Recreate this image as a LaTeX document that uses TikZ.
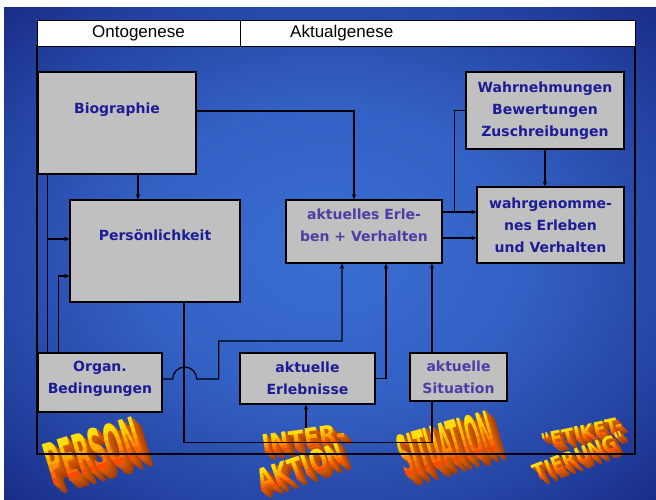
\documentclass[tikz,border=0pt]{standalone}
\usepackage{fontspec}
\setmainfont{Liberation Sans}
\newfontfamily\boxfont{DejaVu Sans}
\newfontfamily\artfont{DejaVu Sans}
\usetikzlibrary{arrows.meta}

\definecolor{boxfill}{RGB}{192,192,192}
\definecolor{boxink}{RGB}{28,28,150}
\definecolor{boxinksoft}{RGB}{75,62,165}
% front face of the 3D lettering, bottom band to top band
\definecolor{waA}{RGB}{255,72,0}
\definecolor{waB}{RGB}{255,105,0}
\definecolor{waC}{RGB}{255,140,0}
\definecolor{waD}{RGB}{255,172,0}
\definecolor{waE}{RGB}{255,200,0}
\definecolor{waF}{RGB}{255,222,10}
% extruded sides of the lettering
\definecolor{wadark}{RGB}{215,95,8}
\definecolor{wadeep}{RGB}{135,42,0}

\pgfdeclareradialshading{slidebg}{\pgfpoint{0bp}{0bp}}{%
  rgb(0bp)=(0.23,0.43,0.82);
  rgb(15bp)=(0.20,0.38,0.77);
  rgb(28bp)=(0.14,0.26,0.63);
  rgb(40bp)=(0.07,0.12,0.47);
  rgb(50bp)=(0.04,0.06,0.38);
  rgb(72bp)=(0.02,0.04,0.33)}

% 3D word: #1 baseline centre, #2 angle, #3 xscale, #4 yscale,
% #5 font size, #6 extrusion steps, #7 text
\newcommand\wordart[7]{%
  \foreach \i in {#6,...,1}{%
    \pgfmathsetmacro\mix{100-(\i-1)*70/#6}%
    \begin{scope}[shift={#1}, xshift=\i*0.85pt, yshift=-\i*0.75pt,
                  rotate=#2, xscale=#3, yscale=#4]
      \node[waglyph, font=\artfont\bfseries\fontsize{#5}{#5}\selectfont,
            text=wadark!\mix!wadeep] at (0pt,0pt) {#7};
    \end{scope}}%
  \begin{scope}[shift={#1}, rotate=#2, xscale=#3, yscale=#4]
    \foreach \k/\c in {0/waA,1/waB,2/waC,3/waD,4/waE,5/waF}{%
      \pgfmathsetmacro\ylo{\k==0 ? -10 : \k*#5*0.1215}%
      \pgfmathsetmacro\yhi{\k==5 ? #5 : (\k+1)*#5*0.1215}%
      \begin{scope}
        \clip (-300pt,\ylo pt) rectangle (300pt,\yhi pt);
        \node[waglyph, font=\artfont\bfseries\fontsize{#5}{#5}\selectfont,
              text=\c] at (0pt,0pt) {#7};
      \end{scope}}
  \end{scope}}

\begin{document}
\begin{tikzpicture}[x=1pt,y=-1pt,
  box/.style={draw=black, line width=1.4pt, fill=boxfill, inner sep=0pt,
    font=\boxfont\bfseries\fontsize{14}{22}\selectfont, text=boxink, align=center},
  hdrcell/.style={draw=black, line width=1pt, fill=white, inner sep=0pt,
    minimum height=26pt, font=\fontsize{17}{17}\selectfont},
  hdrtext/.style={inner sep=0pt, font=\fontsize{17}{17}\selectfont},
  conn/.style={draw=black, line width=1.2pt},
  arr/.style={conn, -{Stealth[length=5pt,width=4.5pt]}},
  waglyph/.style={anchor=base, inner sep=0pt, transform shape},
]
\useasboundingbox (0,0) rectangle (656,499);

% slide background
\fill[white] (0,0) rectangle (656,499);
\shade[shading=slidebg] (4,7) rectangle (656,499);

% 3D lettering
\wordart{(99,471)}{17}{0.71}{1.92}{30}{12}{PERSON}
\wordart{(305,448)}{8}{1.12}{1.28}{20}{9}{INTER-}
\wordart{(304,477)}{19}{1.05}{1.5}{20}{9}{AKTION}
\wordart{(452,464)}{16}{0.54}{1.92}{30}{12}{SITUATION}
\wordart{(583,440)}{12}{1.1}{1.25}{16}{8}{"ETIKET-}
\wordart{(582,463)}{21}{1.1}{1.35}{16}{8}{TIERUNG"}

% outer frame
\draw[conn] (37,46) rectangle (635,454);

% boxes
\node[box, minimum width=158pt, minimum height=102pt, text depth=30pt] (bio) at (117,123) {Biographie};
\node[box, minimum width=170pt, minimum height=102pt, text depth=32pt] (pers) at (155,251) {Persönlichkeit};
\node[box, minimum width=156pt, minimum height=63pt, text=boxinksoft, text depth=12pt] (akt) at (364,231.5) {aktuelles Erle-\\ben + Verhalten};
\node[box, minimum width=158pt, minimum height=77pt] (wahrn) at (545,110.5) {Wahrnehmungen\\Bewertungen\\Zuschreibungen};
\node[box, minimum width=147pt, minimum height=76pt] (wahrg) at (550.5,225) {wahrgenomme-\\nes Erleben\\und Verhalten};
\node[box, minimum width=124pt, minimum height=59pt, text depth=10pt] (organ) at (100,382.5) {Organ.\\Bedingungen};
\node[box, minimum width=135pt, minimum height=51pt] (erlebn) at (307.5,378.5) {aktuelle\\Erlebnisse};
\node[box, minimum width=97pt, minimum height=48pt, text=boxinksoft] (situ) at (458.5,377) {aktuelle\\Situation};

% connectors
\coordinate (b1) at ([xshift=21pt]bio.south);
\draw[arr] (b1) -- (b1 |- pers.north);
\coordinate (b2) at ([yshift=12pt]bio.east);
\coordinate (a1) at ([xshift=-10pt]akt.north);
\draw[arr] (b2) -| (a1);

\coordinate (l1) at ([xshift=10pt]bio.south west);
\coordinate (l2) at ([xshift=10pt]organ.north west);
\draw[conn] (l1) -- (l2);
\coordinate (p1) at ([yshift=12pt]pers.west);
\draw[arr] (l1 |- p1) -- (p1);
\coordinate (l3) at ([xshift=21pt]organ.north west);
\coordinate (p2) at ([yshift=-25pt]pers.west);
\draw[arr] (l3) |- (p2);

\coordinate (p3) at ([xshift=29pt]pers.south);
\coordinate (s1) at ([xshift=-26.5pt]situ.south);
\draw[conn] (p3) -- ++(0,140) -| (s1);
\coordinate (s2) at ([xshift=-26.5pt]situ.north);
\draw[arr] (s2) -- (s2 |- akt.south);

\coordinate (o1) at ([yshift=3.5pt]organ.east);
\coordinate (a2) at ([xshift=-22pt]akt.south);
\draw[arr] (o1) -- ++(10,0) arc[start angle=180, end angle=0, radius=12pt]
  -- ++(22,0) -- ++(0,-38) -| (a2);

\coordinate (a3) at ([xshift=22pt]akt.south);
\draw[arr] (erlebn.east) -| (a3);
\coordinate (ia) at (306,428);
\draw[arr] (ia) -- (ia |- erlebn.south);

\coordinate (a4) at ([yshift=19.5pt]akt.east);
\coordinate (a5) at ([yshift=-6.5pt]akt.east);
\draw[arr] (a4) -- (a4 -| wahrg.west);
\draw[arr] (a5) -- (a5 -| wahrg.west);
\coordinate (j1) at ([xshift=12pt]a4);
\draw[conn] (wahrn.west) -| (j1);
\draw[arr] (wahrn.south) -- (wahrn.south |- wahrg.north);

% header strip
\node[hdrcell, minimum width=203pt] (onto) at (138.5,33) {Ontogenese};
\node[hdrcell, minimum width=395pt] (aktg) at (437.5,33) {};
\node[hdrtext, anchor=west] (aktgtext) at (290,33) {Aktualgenese};
\end{tikzpicture}
\end{document}
